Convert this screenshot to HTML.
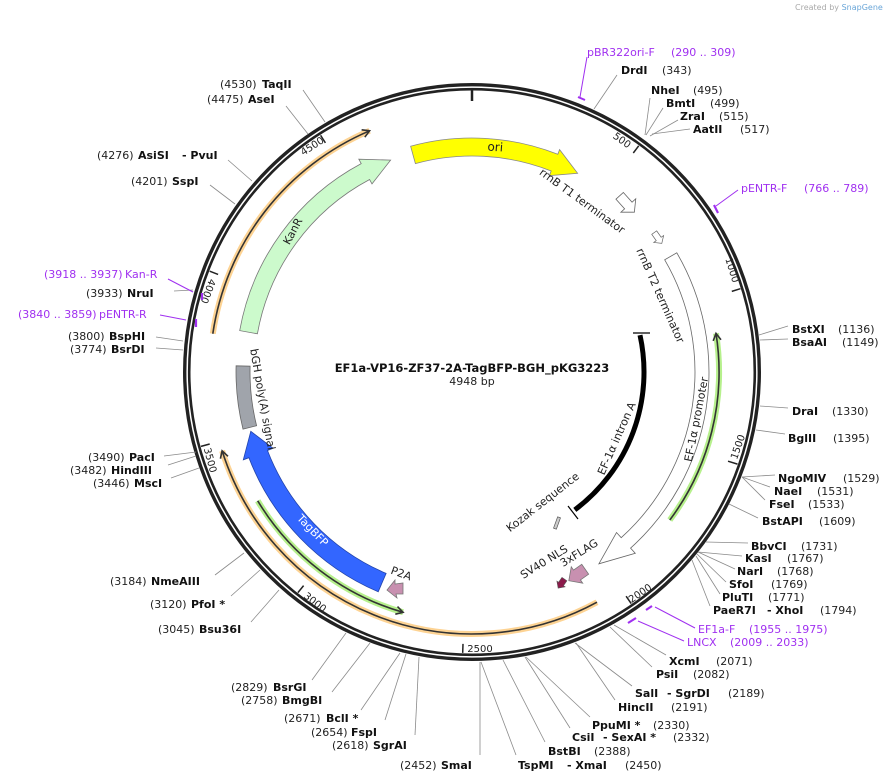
<!DOCTYPE html>
<html><head><meta charset="utf-8"><style>
html,body{margin:0;padding:0;background:#fff;}
svg{display:block;font-family:"DejaVu Sans","Liberation Sans",sans-serif;}
.n{font-size:11px;fill:#222;}
.b{font-size:11px;font-weight:bold;fill:#111;}
.p{font-size:11px;fill:#a030f0;}
.f{font-size:11px;fill:#222;}
.t{font-size:10px;fill:#222;}
.l{stroke:#8a8a8a;stroke-width:0.8;fill:none;}
.pl{stroke:#a030f0;stroke-width:1;fill:none;}
.pt{stroke:#a030f0;stroke-width:2.2;fill:none;}
</style></head><body>
<svg width="892" height="781" viewBox="0 0 892 781" xmlns="http://www.w3.org/2000/svg">
<text x="795" y="10" style="font-size:8px;fill:#aaa">Created by <tspan fill="#6aa6d8">SnapGene</tspan></text>

<!-- ring -->
<circle cx="472" cy="372" r="287.3" fill="none" stroke="#222" stroke-width="3.4"/>
<circle cx="472" cy="372" r="282.8" fill="none" stroke="#222" stroke-width="2.6"/>
<!-- ticks -->
<line x1="472" y1="88" x2="472" y2="101" stroke="#222" stroke-width="2.5"/>
<g stroke="#222" stroke-width="1.5">
<line x1="638.7" y1="145.8" x2="633.3" y2="153.0"/>
<line x1="740.4" y1="288.7" x2="731.8" y2="291.4"/>
<line x1="737.5" y1="464.1" x2="728.0" y2="461.2"/>
<line x1="631.2" y1="603.6" x2="626.1" y2="596.2"/>
<line x1="462.7" y1="652.9" x2="463.0" y2="643.9"/>
<line x1="297.9" y1="592.6" x2="303.6" y2="585.6"/>
<line x1="201.0" y1="446.4" x2="209.7" y2="444.0"/>
<line x1="209.7" y1="271.2" x2="218.1" y2="274.4"/>
<line x1="320.6" y1="135.3" x2="325.4" y2="142.9"/>
</g>
<g class="t" text-anchor="middle">
<text transform="translate(620,143) rotate(36)">500</text>
<text transform="translate(729,271) rotate(73)">1000</text>
<text transform="translate(741,448) rotate(-71)">1500</text>
<text transform="translate(642,596) rotate(-34)">2000</text>
<text x="480" y="652">2500</text>
<text transform="translate(313,605) rotate(38)">3000</text>
<text transform="translate(207,461) rotate(75)">3500</text>
<text transform="translate(205,290) rotate(111)">4000</text>
<text transform="translate(314,149) rotate(-33)">4500</text>
</g>

<!-- orange arcs -->
<g fill="none">
<path d="M212.8,333.7 A262,262 0 0,1 369.6,130.8" stroke="#fdd393" stroke-width="6"/>
<path d="M212.8,333.7 A262,262 0 0,1 369.6,130.8" stroke="#333" stroke-width="1.6"/>
<polyline points="361.6,129.8 369.6,130.8 364.8,137.2" stroke="#333" stroke-width="1.6"/>
<path d="M597.0,602.2 A262,262 0 0,1 222.1,450.8" stroke="#fdd393" stroke-width="6"/>
<path d="M597.0,602.2 A262,262 0 0,1 222.1,450.8" stroke="#333" stroke-width="1.6"/>
<polyline points="220.4,458.7 222.1,450.8 228.0,456.3" stroke="#333" stroke-width="1.6"/>
<!-- green lower-left -->
<path d="M257.7,500.8 A250,250 0 0,0 403.1,612.3" stroke="#b6f08c" stroke-width="6"/>
<path d="M257.7,500.8 A250,250 0 0,0 403.1,612.3" stroke="#333" stroke-width="1.6"/>
<polyline points="395.3,614.2 403.1,612.3 397.5,606.6" stroke="#333" stroke-width="1.6"/>
<!-- EF1a promoter -->
<path d="M669.8,520.0 A247,247 0 0,0 716.0,333.4" stroke="#b6f08c" stroke-width="6"/>
<path d="M669.8,520.0 A247,247 0 0,0 716.0,333.4" stroke="#333" stroke-width="1.6"/>
<polyline points="721.0,339.7 716.0,333.4 713.2,340.9" stroke="#333" stroke-width="1.6"/>
<!-- intron -->
<path d="M640.0,335.1 A172,172 0 0,1 574.8,509.9" stroke="#000" stroke-width="5"/>
<line x1="633" y1="333" x2="650" y2="333" stroke="#000" stroke-width="1.2"/>
<line x1="568" y1="506" x2="578" y2="519" stroke="#000" stroke-width="1.2"/>
</g>

<!-- ori -->
<path d="M410.6,146.2 A234,234 0 0,1 557.8,154.3 L559.6,149.6 L577.6,173.3 L549.3,175.7 L551.2,171.0 A216,216 0 0,0 415.4,163.6 Z" fill="#ffff00" stroke="#888" stroke-width="0.8"/>
<!-- KanR -->
<path d="M239.7,330.6 A236,236 0 0,1 361.2,163.6 L358.8,159.2 L390.6,160.1 L372.0,183.9 L369.6,179.5 A218,218 0 0,0 257.4,333.8 Z" fill="#ccfacc" stroke="#777" stroke-width="0.8"/>
<!-- rrnB T2 big -->
<path d="M676.8,252.8 A237,237 0 0,1 630.6,548.1 L635.3,553.3 L598.9,563.8 L616.5,532.5 L621.2,537.7 A223,223 0 0,0 664.7,259.8 Z" fill="#fff" stroke="#666" stroke-width="0.8"/>
<!-- small terminators -->
<polygon transform="translate(627,204) rotate(48)" points="-11,-5 2,-5 2,-10 11,0 2,10 2,5 -11,5" fill="#fff" stroke="#666" stroke-width="0.8"/>
<polygon transform="translate(658,238) rotate(55) scale(0.6)" points="-11,-5 2,-5 2,-10 11,0 2,10 2,5 -11,5" fill="#fff" stroke="#666" stroke-width="1.2"/>
<!-- TagBFP -->
<path d="M378.2,591.8 A239,239 0 0,1 248.9,457.7 L243.3,459.8 L250.8,431.3 L273.1,448.3 L267.5,450.5 A219,219 0 0,0 386.1,573.4 Z" fill="#3366ff" stroke="#2244aa" stroke-width="0.8"/>
<!-- bGH -->
<path d="M243.0,429.1 A236,236 0 0,1 236.1,365.8 L250.1,366.2 A222,222 0 0,0 256.6,425.7 Z" fill="#a0a4ab" stroke="#666" stroke-width="0.8"/>
<!-- P2A -->
<polygon points="387,590 395,580 395,584 403,583 403,594 396,594 397,598" fill="#c890b0" stroke="#777" stroke-width="0.8"/>
<!-- 3xFLAG, SV40 NLS, Kozak -->
<polygon transform="translate(577,575) rotate(145)" points="-10,-6 0,-6 0,-10 10,0 0,10 0,6 -10,6" fill="#c890b0" stroke="#777" stroke-width="0.8"/>
<polygon transform="translate(561,584) rotate(125)" points="-6,-3 0,-3 0,-5 5,0 0,5 0,3 -6,3" fill="#8b1a4a" stroke="#555" stroke-width="0.6"/>
<rect transform="translate(557,523) rotate(20)" x="-1.5" y="-6" width="3" height="12" fill="#ccc" stroke="#555" stroke-width="0.7"/>

<!-- feature labels -->
<g class="f" text-anchor="middle">
<text transform="translate(495,151) rotate(4)" style="font-size:12px">ori</text>
<text transform="translate(296,233) rotate(-62)">KanR</text>
<text transform="translate(580,204) rotate(36)">rrnB T1 terminator</text>
<text transform="translate(657,297) rotate(66)">rrnB T2 terminator</text>
<text transform="translate(700,420) rotate(-79)">EF-1α promoter</text>
<text transform="translate(620,440) rotate(-66)">EF-1α intron A</text>
<text transform="translate(545,505) rotate(-38)">Kozak sequence</text>
<text transform="translate(546,565) rotate(-32)">SV40 NLS</text>
<text transform="translate(581,556) rotate(-32)">3xFLAG</text>
<text transform="translate(400,577) rotate(20)">P2A</text>
<text transform="translate(310,533) rotate(46)" style="fill:#fff">TagBFP</text>
<text transform="translate(259,400) rotate(80)">bGH poly(A) signal</text>
</g>
<text x="472" y="372" text-anchor="middle" style="font-size:11.5px;font-weight:bold;fill:#111">EF1a-VP16-ZF37-2A-TagBFP-BGH_pKG3223</text>
<text x="472" y="385" text-anchor="middle" class="n">4948 bp</text>

<!-- leader lines -->
<g class="l">
<line x1="303" y1="90" x2="325" y2="122"/>
<line x1="286" y1="106" x2="308" y2="134"/>
<line x1="228" y1="160" x2="252" y2="181"/>
<line x1="210" y1="185" x2="235" y2="204"/>
<line x1="174" y1="291" x2="193" y2="290"/>
<line x1="156" y1="337" x2="183" y2="341"/>
<line x1="156" y1="348" x2="183" y2="350"/>
<line x1="164" y1="456" x2="196" y2="452"/>
<line x1="168" y1="465" x2="196" y2="456"/>
<line x1="171" y1="478" x2="199" y2="468"/>
<line x1="215" y1="575" x2="244" y2="553"/>
<line x1="231" y1="596" x2="260" y2="570"/>
<line x1="251" y1="622" x2="279" y2="590"/>
<line x1="312" y1="680" x2="346" y2="633"/>
<line x1="332" y1="692" x2="370" y2="643"/>
<line x1="361" y1="710" x2="400" y2="653"/>
<line x1="385" y1="720" x2="406" y2="654"/>
<line x1="415" y1="735" x2="419" y2="657"/>
<line x1="480" y1="755" x2="480" y2="662"/>
<line x1="516" y1="755" x2="481" y2="662"/>
<line x1="545" y1="742" x2="503" y2="660"/>
<line x1="570" y1="728" x2="525" y2="657"/>
<line x1="590" y1="717" x2="526" y2="657"/>
<line x1="615" y1="700" x2="576" y2="643"/>
<line x1="632" y1="686" x2="575" y2="643"/>
<line x1="652" y1="667" x2="610" y2="627"/>
<line x1="666" y1="655" x2="614" y2="625"/>
<line x1="710" y1="606" x2="692" y2="560"/>
<line x1="720" y1="594" x2="696" y2="556"/>
<line x1="726" y1="582" x2="697" y2="554"/>
<line x1="735" y1="569" x2="698" y2="552"/>
<line x1="742" y1="556" x2="698" y2="552"/>
<line x1="748" y1="543" x2="706" y2="542"/>
<line x1="758" y1="518" x2="729" y2="504"/>
<line x1="765" y1="500" x2="742" y2="477"/>
<line x1="770" y1="487" x2="742" y2="477"/>
<line x1="775" y1="475" x2="742" y2="477"/>
<line x1="785" y1="434" x2="756" y2="430"/>
<line x1="788" y1="408" x2="760" y2="406"/>
<line x1="788" y1="339" x2="760" y2="340"/>
<line x1="788" y1="326" x2="759" y2="335"/>
<line x1="617" y1="75" x2="594" y2="109"/>
<line x1="650" y1="98" x2="645" y2="135"/>
<line x1="663" y1="108" x2="646" y2="135"/>
<line x1="678" y1="120" x2="650" y2="136"/>
<line x1="690" y1="129" x2="652" y2="134"/>
</g>
<!-- primers -->
<g>
<polyline class="pl" points="168,279 193,292"/><line class="pt" x1="202" y1="293" x2="202" y2="300"/>
<polyline class="pl" points="160,315 186,320"/><line class="pt" x1="196" y1="319" x2="196" y2="327"/>
<polyline class="pl" points="587,57 580,97"/><polyline class="pl" points="578,97 585,100" style="stroke-width:2"/>
<polyline class="pl" points="738,190 716,206"/><line class="pt" x1="714" y1="205" x2="718" y2="213"/>
<polyline class="pl" points="695,628 655,607"/><line class="pt" x1="646" y1="610" x2="652" y2="606"/>
<polyline class="pl" points="684,641 638,621"/><line class="pt" x1="628" y1="623" x2="636" y2="618"/>
</g>

<!-- labels left -->
<text class="n" x="220" y="88">(4530)</text><text class="b" x="262" y="88">TaqII</text>
<text class="n" x="207" y="103">(4475)</text><text class="b" x="248" y="103">AseI</text>
<text class="n" x="97" y="159">(4276)</text><text class="b" x="138" y="159">AsiSI</text><text class="b" x="182" y="159">- PvuI</text>
<text class="n" x="131" y="185">(4201)</text><text class="b" x="172" y="185">SspI</text>
<text class="p" x="44" y="278">(3918 .. 3937)</text><text class="p" x="125" y="278">Kan-R</text>
<text class="n" x="86" y="297">(3933)</text><text class="b" x="127" y="297">NruI</text>
<text class="p" x="18" y="318">(3840 .. 3859)</text><text class="p" x="99" y="318">pENTR-R</text>
<text class="n" x="68" y="340">(3800)</text><text class="b" x="109" y="340">BspHI</text>
<text class="n" x="70" y="353">(3774)</text><text class="b" x="111" y="353">BsrDI</text>
<text class="n" x="88" y="461">(3490)</text><text class="b" x="129" y="461">PacI</text>
<text class="n" x="70" y="474">(3482)</text><text class="b" x="111" y="474">HindIII</text>
<text class="n" x="93" y="487">(3446)</text><text class="b" x="134" y="487">MscI</text>
<text class="n" x="110" y="585">(3184)</text><text class="b" x="151" y="585">NmeAIII</text>
<text class="n" x="150" y="608">(3120)</text><text class="b" x="191" y="608">PfoI *</text>
<text class="n" x="158" y="633">(3045)</text><text class="b" x="199" y="633">Bsu36I</text>
<!-- bottom -->
<text class="n" x="231" y="691">(2829)</text><text class="b" x="273" y="691">BsrGI</text>
<text class="n" x="241" y="704">(2758)</text><text class="b" x="282" y="704">BmgBI</text>
<text class="n" x="284" y="722">(2671)</text><text class="b" x="326" y="722">BclI *</text>
<text class="n" x="311" y="736">(2654)</text><text class="b" x="351" y="736">FspI</text>
<text class="n" x="332" y="749">(2618)</text><text class="b" x="373" y="749">SgrAI</text>
<text class="n" x="400" y="769">(2452)</text><text class="b" x="441" y="769">SmaI</text>
<text class="b" x="518" y="769">TspMI</text><text class="b" x="567" y="769">- XmaI</text><text class="n" x="625" y="769">(2450)</text>
<text class="b" x="548" y="755">BstBI</text><text class="n" x="594" y="755">(2388)</text>
<text class="b" x="572" y="741">CsiI</text><text class="b" x="603" y="741">- SexAI *</text><text class="n" x="673" y="741">(2332)</text>
<text class="b" x="592" y="729">PpuMI *</text><text class="n" x="653" y="729">(2330)</text>
<text class="b" x="618" y="711">HincII</text><text class="n" x="671" y="711">(2191)</text>
<text class="b" x="635" y="697">SalI</text><text class="b" x="667" y="697">- SgrDI</text><text class="n" x="728" y="697">(2189)</text>
<text class="b" x="656" y="678">PsiI</text><text class="n" x="693" y="678">(2082)</text>
<text class="b" x="669" y="665">XcmI</text><text class="n" x="716" y="665">(2071)</text>
<text class="p" x="687" y="646">LNCX</text><text class="p" x="730" y="646">(2009 .. 2033)</text>
<text class="p" x="698" y="633">EF1a-F</text><text class="p" x="749" y="633">(1955 .. 1975)</text>
<!-- right -->
<text class="b" x="713" y="614">PaeR7I</text><text class="b" x="767" y="614">- XhoI</text><text class="n" x="820" y="614">(1794)</text>
<text class="b" x="722" y="601">PluTI</text><text class="n" x="768" y="601">(1771)</text>
<text class="b" x="729" y="588">SfoI</text><text class="n" x="771" y="588">(1769)</text>
<text class="b" x="737" y="575">NarI</text><text class="n" x="777" y="575">(1768)</text>
<text class="b" x="745" y="562">KasI</text><text class="n" x="787" y="562">(1767)</text>
<text class="b" x="751" y="550">BbvCI</text><text class="n" x="801" y="550">(1731)</text>
<text class="b" x="762" y="525">BstAPI</text><text class="n" x="819" y="525">(1609)</text>
<text class="b" x="769" y="508">FseI</text><text class="n" x="808" y="508">(1533)</text>
<text class="b" x="774" y="495">NaeI</text><text class="n" x="817" y="495">(1531)</text>
<text class="b" x="778" y="482">NgoMIV</text><text class="n" x="843" y="482">(1529)</text>
<text class="b" x="788" y="442">BglII</text><text class="n" x="833" y="442">(1395)</text>
<text class="b" x="792" y="415">DraI</text><text class="n" x="832" y="415">(1330)</text>
<text class="b" x="792" y="346">BsaAI</text><text class="n" x="842" y="346">(1149)</text>
<text class="b" x="792" y="333">BstXI</text><text class="n" x="838" y="333">(1136)</text>
<text class="p" x="741" y="192">pENTR-F</text><text class="p" x="804" y="192">(766 .. 789)</text>
<text class="b" x="693" y="133">AatII</text><text class="n" x="740" y="133">(517)</text>
<text class="b" x="680" y="120">ZraI</text><text class="n" x="719" y="120">(515)</text>
<text class="b" x="666" y="107">BmtI</text><text class="n" x="710" y="107">(499)</text>
<text class="b" x="651" y="94">NheI</text><text class="n" x="693" y="94">(495)</text>
<text class="b" x="621" y="74">DrdI</text><text class="n" x="662" y="74">(343)</text>
<text class="p" x="587" y="56">pBR322ori-F</text><text class="p" x="671" y="56">(290 .. 309)</text>
</svg>
</body></html>
